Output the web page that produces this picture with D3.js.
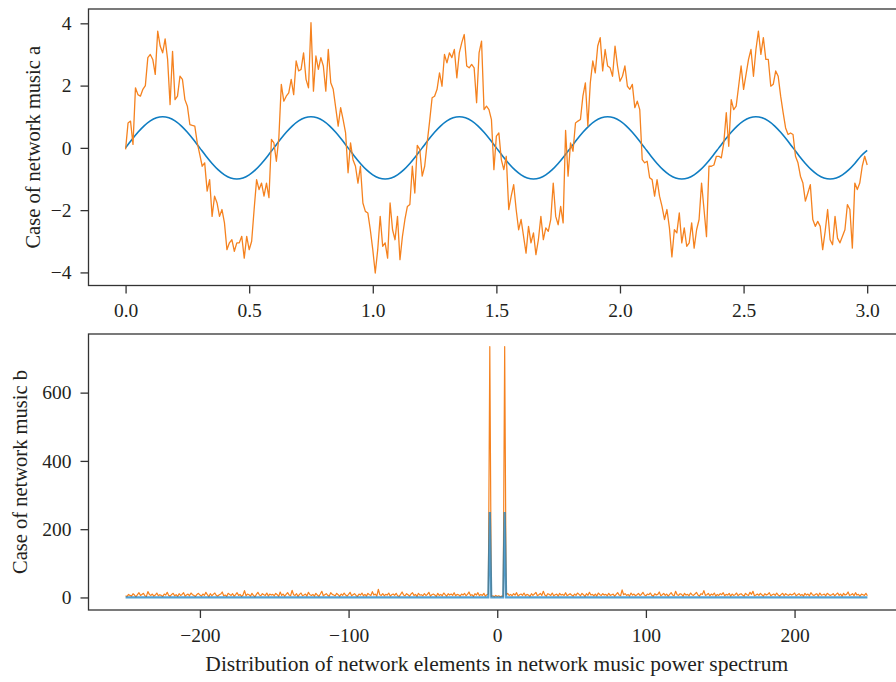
<!DOCTYPE html>
<html>
<head>
<meta charset="utf-8">
<script src="https://cdn.jsdelivr.net/npm/d3@7"></script>
<style>
  html, body { margin: 0; padding: 0; background: #ffffff; }
  svg { display: block; }
  text { font-family: "Liberation Serif", "Times New Roman", serif; fill: #231f20; }
</style>
</head>
<body>
<svg id="chart" width="896" height="682"></svg>
<script>
// ---------- DATA ----------
// Top panel: time axis sampled every 0.01 s (orange) and 0.025 s (blue)
const timeStepNoisy = 0.01;
const timeStepPure = 0.025;
const pureSignal = [
  0, 0.259, 0.5, 0.707, 0.866, 0.966, 1, 0.966, 0.866, 0.707, 0.5, 0.259, 0, -0.259, -0.5, -0.707, -0.866, -0.966, -1, -0.966, -0.866, -0.707, -0.5, -0.259,
  0, 0.259, 0.5, 0.707, 0.866, 0.966, 1, 0.966, 0.866, 0.707, 0.5, 0.259, 0, -0.259, -0.5, -0.707, -0.866, -0.966, -1, -0.966, -0.866, -0.707, -0.5, -0.259,
  0, 0.259, 0.5, 0.707, 0.866, 0.966, 1, 0.966, 0.866, 0.707, 0.5, 0.259, 0, -0.259, -0.5, -0.707, -0.866, -0.966, -1, -0.966, -0.866, -0.707, -0.5, -0.259,
  0, 0.259, 0.5, 0.707, 0.866, 0.966, 1, 0.966, 0.866, 0.707, 0.5, 0.259, 0, -0.259, -0.5, -0.707, -0.866, -0.966, -1, -0.966, -0.866, -0.707, -0.5, -0.259,
  0, 0.259, 0.5, 0.707, 0.866, 0.966, 1, 0.966, 0.866, 0.707, 0.5, 0.259, 0, -0.259, -0.5, -0.707, -0.866, -0.966, -1, -0.966, -0.866, -0.707, -0.5, -0.259,
  -0.08
];
const noisySignal = [
  -0.05, 0.8, 0.86, 0.11, 1.93, 1.71, 1.66, 1.88, 2.0, 2.9,
  3.0, 2.84, 2.36, 3.75, 3.27, 3.05, 3.5, 2.84, 1.39, 3.1,
  1.55, 1.66, 2.3, 2.2, 1.55, 1.34, 0.75, 0.72, 0.7, 0.16,
  -0.21, -0.59, -0.48, -1.39, -1.02, -2.2, -1.55, -1.77, -2.2, -1.98,
  -2.41, -3.27, -3.05, -2.95, -3.32, -3.05, -3.05, -2.84, -3.54, -2.84,
  -3.27, -3.0, -1.98, -1.02, -1.34, -1.13, -1.55, -1.13, -1.6, 0.27,
  0.16, -0.43, 0.32, 2.04, 1.5, 1.66, 1.77, 2.2, 1.71, 2.79,
  2.47, 2.52, 3.05, 2.2, 1.93, 4.02, 1.82, 2.95, 2.52, 2.9,
  2.63, 1.82, 3.16, 2.09, 1.88, 1.29, 0.7, 1.29, 0.91, 0.48,
  -0.8, 0.16, -0.38, -0.59, -1.13, -0.59, -1.77, -2.04, -2.09, -2.63,
  -3.27, -4.02, -3.27, -2.2, -3.16, -3.05, -3.54, -1.77, -2.63, -2.95,
  -2.2, -3.59, -2.84, -2.3, -1.88, -1.82, -0.59, -1.45, 0.08, -0.05,
  -0.91, -0.59, 0.16, 0.86, 1.61, 1.66, 1.88, 2.41, 1.98, 3.0,
  2.73, 3.05, 2.9, 3.16, 2.25, 3.05, 3.38, 3.64, 2.63, 2.57,
  2.68, 2.57, 1.45, 3.05, 3.43, 1.23, 1.34, 1.23, 0.91, -0.7,
  0.38, 0.48, -0.38, -0.7, -0.27, -1.98, -1.55, -1.18, -1.98, -2.63,
  -2.3, -2.84, -3.38, -2.52, -3.05, -2.73, -3.43, -2.95, -2.2, -2.95,
  -2.57, -2.68, -2.3, -1.13, -2.2, -2.47, -1.88, -2.41, 0.56, -0.91,
  0.16, -0.11, 0.8, 0.86, 0.91, 1.66, 2.09, 0.7, 2.09, 2.79,
  2.41, 3.27, 3.54, 2.47, 3.16, 2.63, 2.57, 2.3, 3.27, 2.63,
  2.14, 2.3, 2.63, 1.98, 1.88, 2.04, 1.29, 1.5, 1.23, -0.38,
  -0.48, -0.43, -0.96, -1.02, -1.55, -1.02, -1.55, -1.88, -2.3, -1.98,
  -2.57, -3.5, -2.63, -2.73, -2.09, -3.05, -2.57, -3.16, -3.05, -2.41,
  -3.22, -2.63, -2.3, -1.13, -1.98, -2.85, -0.59, -0.59, -0.55, -0.27,
  -0.27, -0.32, 0.16, 1.13, 0.05, 1.55, 1.23, 1.34, 1.98, 2.63,
  1.88, 2.36, 2.84, 3.16, 2.3, 3.16, 3.75, 3.0, 3.54, 2.84,
  2.84, 1.98, 2.04, 2.47, 2.3, 1.66, 1.13, 0.64, 0.43, 0.48,
  0.43, -0.27, -0.48, -0.91, -1.13, -1.71, -1.45, -1.18, -2.3, -2.52,
  -2.36, -2.52, -3.27, -2.68, -1.98, -2.95, -3.11, -2.2, -2.9, -3.05,
  -2.84, -2.63, -1.82, -1.98, -3.22, -1.13, -1.34, -1.13, -0.59, -0.27,
  -0.55
];
const topXTicks = [0, 0.5, 1.0, 1.5, 2.0, 2.5, 3.0];
const topYTicks = [-4, -2, 0, 2, 4];

// Bottom panel: power spectrum, bins -250 .. 249
const firstBin = -250;
const noisySpectrum = [
  5,3,9,6,4,11,7,2,8,14,6,9,12,5,3,17,9,6,10,4,7,13,5,8,6,
  3,10,7,15,6,4,9,12,5,8,3,11,6,9,14,4,7,10,5,13,8,6,3,9,12,
  7,4,10,6,15,8,2,11,5,9,13,6,4,8,10,16,5,7,3,12,9,6,11,4,8,
  14,6,9,3,7,20,5,10,8,4,12,6,2,9,15,7,5,11,8,6,13,4,10,7,9,
  5,12,8,3,16,6,10,4,9,14,7,5,21,8,6,11,3,9,13,5,7,10,4,15,8,
  6,9,4,12,7,3,10,18,5,8,11,6,4,14,9,7,5,12,8,3,10,6,13,7,4,
  9,15,5,8,11,6,3,10,7,13,5,9,4,12,8,6,17,7,10,4,24,8,6,11,5,
  9,7,13,4,8,10,6,12,5,3,9,16,7,5,11,8,4,10,14,6,9,3,12,7,8,
  5,11,6,9,15,4,8,10,7,3,12,6,9,5,13,8,4,11,7,10,6,14,5,9,8,
  4,10,7,12,5,9,16,6,8,3,11,7,14,5,9,6,12,4,8,10,735,3,5,2,6,
  3,5,2,4,3,735,8,12,6,9,5,11,7,14,4,8,10,6,13,5,9,7,3,11,6,
  10,15,5,8,12,6,18,7,4,11,9,6,13,5,8,10,4,12,7,9,6,14,5,8,11,
  7,4,10,6,13,9,5,12,8,3,11,6,15,7,9,5,10,4,13,8,6,11,7,9,5,
  12,6,8,10,4,9,14,7,5,22,8,11,6,9,4,13,7,10,5,8,12,6,9,15,7,
  5,10,8,13,6,4,11,7,9,16,5,8,12,6,10,4,9,14,7,5,18,8,6,11,9,
  4,12,7,9,5,13,8,6,10,15,7,4,11,9,20,6,8,12,5,10,7,13,4,9,6,
  11,8,14,5,9,7,12,4,10,6,8,13,5,9,11,7,4,12,8,6,15,9,18,5,7,
  10,6,12,8,4,11,7,9,14,5,8,10,6,13,7,4,9,12,5,11,8,6,10,7,9,
  13,5,8,11,6,9,4,12,7,10,5,14,8,6,9,11,4,13,7,8,10,5,12,9,6,
  8,11,5,9,13,6,10,4,12,7,9,16,6,8,11,5,14,7,9,4,10,8,6,12,5
];
// pure tone spectrum: zero everywhere except the two lines at +-5
const pureSpectrumBins   = [-250, -6, -5, -4, 4, 5, 6, 249];
const pureSpectrumValues = [0, 0, 250, 0, 0, 250, 0, 0];
const bottomXTicks = [-200, -100, 0, 100, 200];
const bottomYTicks = [0, 200, 400, 600];

const topYLabel = "Case of network music a";
const bottomYLabel = "Case of network music b";
const bottomXLabel = "Distribution of network elements in network music power spectrum";

// ---------- DRAWING ----------
const svg = d3.select("#chart");
const BLUE = "#0f7dc2";
const ORANGE = "#f5821f";
const AXIS = "#333333";
const FRAME_L = 88.5, FRAME_R = 905;

function drawFrame(g, yTop, yBot) {
  g.append("rect")
    .attr("x", FRAME_L).attr("y", yTop)
    .attr("width", FRAME_R - FRAME_L).attr("height", yBot - yTop)
    .attr("fill", "none").attr("stroke", AXIS).attr("stroke-width", 1.3);
}

function styleAxis(sel) {
  sel.select(".domain").remove();
  sel.selectAll(".tick line").attr("stroke", AXIS).attr("stroke-width", 1.3);
  sel.selectAll(".tick text")
    .style("font-family", '"Liberation Serif", "Times New Roman", serif')
    .style("font-size", "19.5px").attr("fill", "#231f20");
}

// ---- top panel ----
const topTop = 9, topBot = 285.5;
const xTop = d3.scaleLinear().domain([-0.15, 3.15]).range([FRAME_L, FRAME_L + 3.3 * 247.2]);
const yTop = d3.scaleLinear().domain([-4.42, 4.46]).range([topBot, topTop]);
const gTop = svg.append("g");

const pureLine = d3.line()
  .x((d, i) => xTop(i * timeStepPure)).y(d => yTop(d))
  .curve(d3.curveMonotoneX);
const noisyLine = d3.line()
  .x((d, i) => xTop(i * timeStepNoisy)).y(d => yTop(d));

gTop.append("path").datum(pureSignal).attr("d", pureLine)
  .attr("fill", "none").attr("stroke", BLUE).attr("stroke-width", 1.6);
gTop.append("path").datum(noisySignal).attr("d", noisyLine)
  .attr("fill", "none").attr("stroke", ORANGE).attr("stroke-width", 1.3)
  .attr("stroke-linejoin", "round");

drawFrame(gTop, topTop, topBot);
gTop.append("g").attr("transform", `translate(0,${topBot})`)
  .call(d3.axisBottom(xTop).tickValues(topXTicks).tickFormat(d3.format(".1f"))
    .tickSize(8).tickPadding(10))
  .call(styleAxis);
gTop.append("g").attr("transform", `translate(${FRAME_L},0)`)
  .call(d3.axisLeft(yTop).tickValues(topYTicks).tickFormat(d3.format("d"))
    .tickSize(8).tickPadding(9))
  .call(styleAxis);
gTop.append("text")
  .attr("transform", `translate(39.5,${(topTop + topBot) / 2}) rotate(-90)`)
  .attr("text-anchor", "middle")
  .style("font-size", "20.5px")
  .text(topYLabel);

// ---- bottom panel ----
const botTop = 334, botBot = 610;
const xBot = d3.scaleLinear().domain([-274.95, 273.95]).range([FRAME_L, FRAME_L + 548.9 * 1.4866]);
const yBot = d3.scaleLinear().domain([-36.75, 771.75]).range([botBot, botTop]);
const gBot = svg.append("g");

const specLine = d3.line()
  .x((d, i) => xBot(firstBin + i)).y(d => yBot(d));
const pureSpecLine = d3.line()
  .x((d, i) => xBot(pureSpectrumBins[i])).y(d => yBot(d));

gBot.append("path").datum(noisySpectrum).attr("d", specLine)
  .attr("fill", "none").attr("stroke", ORANGE).attr("stroke-width", 1.2)
  .attr("stroke-linejoin", "round");
gBot.append("path").datum(pureSpectrumValues).attr("d", pureSpecLine)
  .attr("fill", "none").attr("stroke", BLUE).attr("stroke-width", 2.2)
  .attr("stroke-opacity", 0.72);

drawFrame(gBot, botTop, botBot);
gBot.append("g").attr("transform", `translate(0,${botBot})`)
  .call(d3.axisBottom(xBot).tickValues(bottomXTicks).tickFormat(d3.format("d"))
    .tickSize(8).tickPadding(10))
  .call(styleAxis);
gBot.append("g").attr("transform", `translate(${FRAME_L},0)`)
  .call(d3.axisLeft(yBot).tickValues(bottomYTicks).tickFormat(d3.format("d"))
    .tickSize(8).tickPadding(9))
  .call(styleAxis);
gBot.append("text")
  .attr("transform", `translate(26.5,${(botTop + botBot) / 2}) rotate(-90)`)
  .attr("text-anchor", "middle")
  .style("font-size", "20.5px")
  .text(bottomYLabel);
gBot.append("text")
  .attr("x", (FRAME_L + FRAME_R) / 2).attr("y", 671)
  .attr("text-anchor", "middle")
  .style("font-size", "21.5px")
  .text(bottomXLabel);
</script>
</body>
</html>
